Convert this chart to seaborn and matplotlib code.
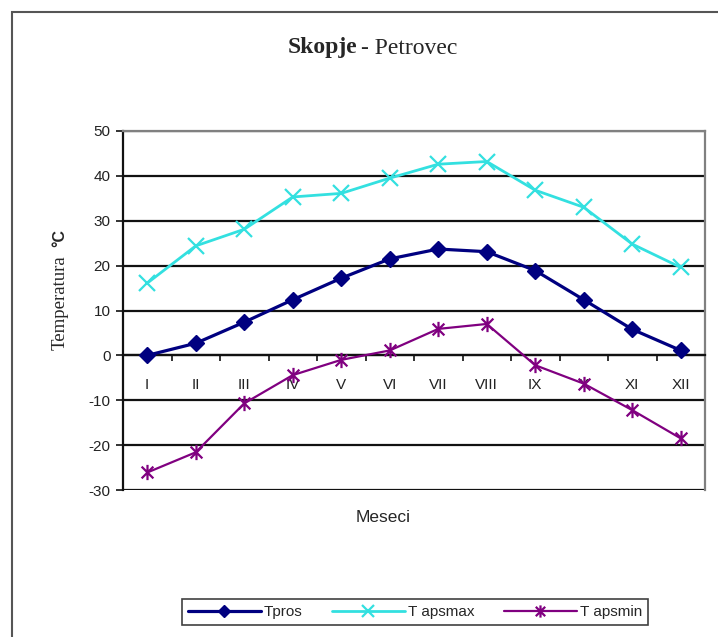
import numpy as np
import pandas as pd
import matplotlib
matplotlib.use("Agg")
import matplotlib.pyplot as plt
from matplotlib.path import Path
from matplotlib.patches import Rectangle
import seaborn as sns

months = ["I", "II", "III", "IV", "V", "VI", "VII", "VIII", "IX", "X", "XI", "XII"]
t_pros = [0.0, 2.7, 7.4, 12.4, 17.2, 21.5, 23.7, 23.1, 18.9, 12.4, 5.8, 1.1]
t_apsmax = [16.1, 24.4, 28.1, 35.3, 36.1, 39.5, 42.6, 43.2, 36.8, 33.0, 24.8, 19.6]
t_apsmin = [-26.1, -21.6, -10.7, -4.4, -1.0, 1.1, 5.9, 7.0, -2.2, -6.3, -12.2, -18.5]
series_names = ["Tpros", "T apsmax", "T apsmin"]
y_ticks = [-30, -20, -10, 0, 10, 20, 30, 40, 50]

sns.set_theme(style="white")
plt.rcParams["font.family"] = ["Liberation Sans", "DejaVu Sans"]

pos = np.arange(len(months))
df = pd.DataFrame({"pos": pos, "Tpros": t_pros, "T apsmax": t_apsmax, "T apsmin": t_apsmin})

star = Path([(-1, -1), (1, 1), (-1, 1), (1, -1), (0, -1.3), (0, 1.3)],
            [Path.MOVETO, Path.LINETO, Path.MOVETO, Path.LINETO, Path.MOVETO, Path.LINETO])

fig = plt.figure(figsize=(7.18, 6.37), dpi=100)
ax = fig.add_axes([123 / 718, 1 - 490 / 637, (705 - 123) / 718, (490 - 131) / 637])

styles = [
    dict(color="#000080", marker="D", markersize=8, lw=2.3, mew=1),
    dict(color="#33E0E0", marker="x", markersize=11, lw=2.0, mew=1.6),
    dict(color="#800080", marker=star, markersize=11, lw=1.6, mew=1.6),
]
for name, st in zip(series_names, styles):
    sns.lineplot(data=df, x="pos", y=name, ax=ax, label=name, color=st["color"],
                 marker=st["marker"], markersize=st["markersize"], linewidth=st["lw"],
                 markeredgewidth=st["mew"], markeredgecolor=st["color"],
                 markerfacecolor=st["color"], zorder=3)

ax.set_xlim(-0.5, len(months) - 0.5)
ax.set_ylim(-30, 50)
ax.set_yticks(y_ticks)
ax.set_yticklabels([str(v) for v in y_ticks], fontsize=11, color="#222222")
ax.yaxis.grid(True, color="#111111", lw=1.6)
ax.set_axisbelow(True)
ax.tick_params(axis="y", direction="out", length=5, width=1.2, color="#111111", left=True, pad=4)

# category axis crossing at zero
ax.spines["bottom"].set_position(("data", 0))
ax.spines["bottom"].set_color("#111111")
ax.spines["bottom"].set_linewidth(1.6)
ax.spines["left"].set_color("#111111")
ax.spines["left"].set_linewidth(1.6)
for s in ["top", "right"]:
    ax.spines[s].set_color("#808080")
    ax.spines[s].set_linewidth(1.6)

ax.set_xticks(np.arange(len(months) + 1) - 0.5)
ax.set_xticklabels([])
ax.tick_params(axis="x", which="major", direction="out", length=4, width=1.2, color="#111111", bottom=True)
ax.set_xticks(pos, minor=True)
ax.set_xticklabels(months, minor=True, fontsize=11, color="#222222")
ax.tick_params(axis="x", which="minor", length=0, pad=16)
ax.set_xlabel("")
ax.set_ylabel("")

# outer chart frame
top = 1 - 12 / 637
fig.add_artist(Rectangle((12 / 718, -0.2), 1.2, top + 0.2, transform=fig.transFigure,
                         fill=False, ec="#555555", lw=1.5))

fig.text(0.497, 1 - 48 / 637, "Skopje", ha="right", va="center", fontsize=17,
         family=["Liberation Serif"], fontweight="bold")
fig.text(0.503, 1 - 48 / 637, "- Petrovec", ha="left", va="center", fontsize=17,
         family=["Liberation Serif"])
fig.text(60 / 718, 1 - 303 / 637, "Temperatura", rotation=90, ha="center", va="center",
         fontsize=13.5, family=["Liberation Serif"])
fig.text(60 / 718, 1 - 238 / 637, "°C", rotation=90, ha="center", va="center",
         fontsize=11.5, fontweight="bold")
fig.text(383 / 718, 1 - 518 / 637, "Meseci", ha="center", va="center", fontsize=12.5)

ax.legend_.remove()
handles, labels = ax.get_legend_handles_labels()
leg = fig.legend(handles, labels, loc="center", bbox_to_anchor=(415 / 718, 1 - 612 / 637),
                 ncol=3, frameon=True, fancybox=False, edgecolor="#111111", fontsize=11,
                 handlelength=4.8, handletextpad=0.2, columnspacing=1.9, borderpad=0.4,
                 markerscale=0.8)
leg.get_frame().set_linewidth(1.2)

fig.savefig("out.png", dpi=100, facecolor="white")
